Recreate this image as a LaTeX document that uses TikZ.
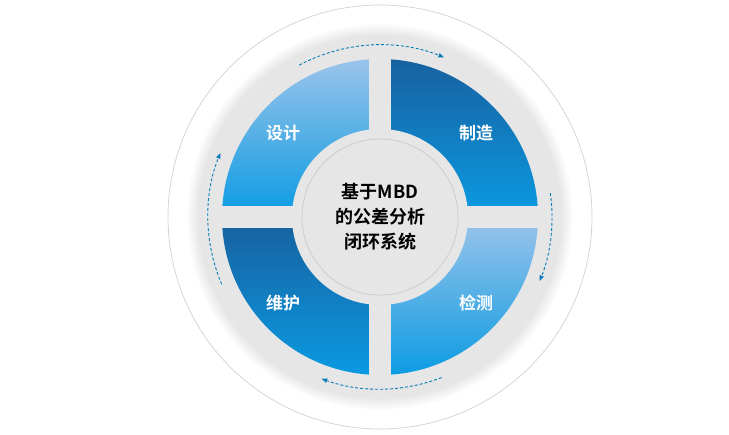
\documentclass[tikz,border=0pt]{standalone}
\usepackage{fontspec}
\newfontfamily\cjk[BoldFont={Noto Sans CJK SC Bold}]{Noto Sans CJK SC}
\usetikzlibrary{arrows.meta,calc}
\definecolor{bgray}{HTML}{E6E6E6}
\definecolor{dkblue}{HTML}{17609F}
\definecolor{brblue}{HTML}{0A9BE3}
\definecolor{ltblue}{HTML}{9CC4EA}
\tikzset{
  lbl/.style={text=white,font=\cjk\bfseries\fontsize{17}{19}\selectfont},
  arc/.style={dash pattern=on 3pt off 2pt,draw=brblue!80!black,line width=0.9pt,-{Latex[length=6pt,width=5pt]}}
}
\begin{document}
\begin{tikzpicture}[x=1pt,y=1pt]
\useasboundingbox (0,0) rectangle (729,435);
\coordinate (c) at (380,218);
\draw[black!18,line width=0.7pt,fill=white] (c) circle (212);
\foreach \i in {1,...,8}{\fill[black,opacity=0.01] (c) circle (181+\i*1.5);}
\fill[bgray] (c) circle (181);
\begin{scope}
\clip (c) circle (158);
\shade[top color=ltblue,bottom color=brblue] ($(c)+(-160,0)$) rectangle ($(c)+(0,160)$);
\shade[top color=dkblue,bottom color=brblue] ($(c)+(0,0)$) rectangle ($(c)+(160,160)$);
\shade[top color=dkblue,bottom color=brblue] ($(c)+(-160,-160)$) rectangle ($(c)+(0,0)$);
\shade[top color=ltblue,bottom color=brblue] ($(c)+(0,-160)$) rectangle ($(c)+(160,0)$);
\end{scope}
\fill[bgray] ($(c)+(-170,-11)$) rectangle ($(c)+(170,11)$);
\fill[bgray] ($(c)+(-11,-170)$) rectangle ($(c)+(11,170)$);
\fill[bgray] (c) circle (88);
\node[circle,minimum size=156pt,draw=black!20,line width=0.8pt,fill=bgray,align=center,
  font=\cjk\bfseries\fontsize{18}{25}\selectfont] (ctr) at (c) {基于MBD\\的公差分析\\闭环系统};
\node[lbl] (sj) at (283,302) {设计};
\node[lbl] (zz) at (476,302) {制造};
\node[lbl] (wh) at (283,132) {维护};
\node[lbl] (jc) at (476,132) {检测};
\draw[arc] ($(c)+(118:172)$) arc (118:68:172);
\draw[arc] ($(c)+(8:172)$) arc (8:-22:172);
\draw[arc] ($(c)+(-69:172)$) arc (-69:-110:172);
\draw[arc] ($(c)+(-157:172)$) arc (-157:-202:172);
\end{tikzpicture}
\end{document}
